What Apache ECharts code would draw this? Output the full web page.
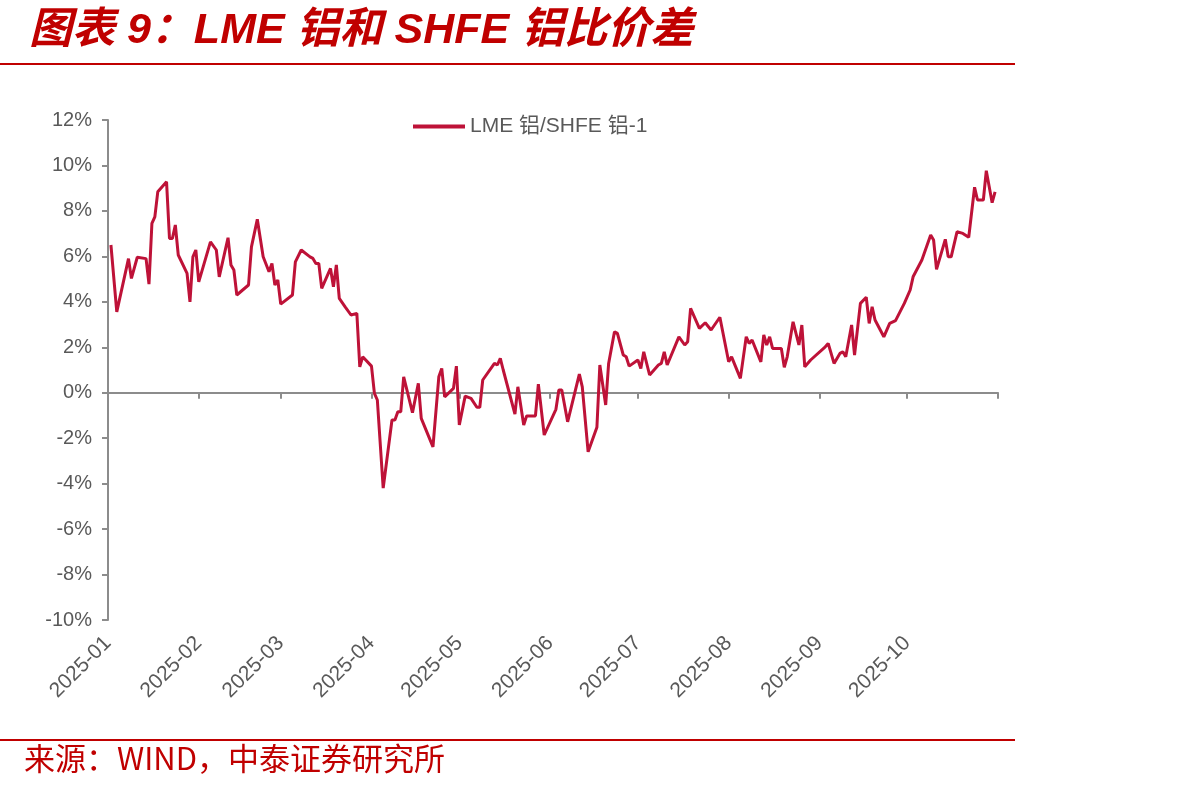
<!DOCTYPE html>
<html>
<head>
<meta charset="utf-8">
<script src="https://cdn.jsdelivr.net/npm/echarts@6/dist/echarts.min.js"></script>
<style>
  html, body { margin: 0; padding: 0; background: #fff; }
  #main { width: 1192px; height: 792px; }
</style>
</head>
<body>
<div id="main"></div>
<script>
// trading dates (2025) and LME/SHFE - 1 spread, %
const dates = [
  '01-02','01-04','01-08','01-09','01-11','01-14','01-15','01-16','01-17','01-18',
  '01-21','01-22','01-23','01-24','01-25','01-28','01-29','01-30','01-31','02-01',
  '02-05','02-07','02-08','02-11','02-12','02-13','02-14','02-18','02-19','02-21',
  '02-23','02-25','02-26','02-27','02-28','03-01','03-05','03-06','03-08','03-11',
  '03-12','03-13','03-14','03-15','03-18','03-19','03-20','03-21','03-23','03-25',
  '03-27','03-28','03-29','04-01','04-02','04-03','04-05','04-08','04-09','04-10',
  '04-11','04-12','04-15','04-17','04-18','04-22','04-24','04-25','04-26','04-29',
  '04-30','05-01','05-03','05-05','05-07','05-08','05-09','05-13','05-14','05-15',
  '05-16','05-20','05-21','05-23','05-24','05-27','05-28','05-30','06-03','06-04',
  '06-05','06-07','06-11','06-12','06-14','06-17','06-18','06-20','06-21','06-23',
  '06-24','06-26','06-27','06-28','07-01','07-02','07-03','07-05','07-08','07-09',
  '07-10','07-11','07-15','07-17','07-18','07-19','07-22','07-24','07-26','07-29',
  '08-01','08-02','08-05','08-07','08-08','08-09','08-12','08-13','08-14','08-15',
  '08-16','08-19','08-20','08-21','08-23','08-25','08-26','08-27','08-29','09-03',
  '09-04','09-06','09-08','09-09','09-10','09-12','09-13','09-15','09-17','09-18',
  '09-19','09-20','09-23','09-25','09-27','09-30','10-02','10-03','10-06','10-09',
  '10-10','10-11','10-14','10-15','10-16','10-18','10-20','10-22','10-24','10-25',
  '10-27','10-28','10-29','10-30','10-31'
];
const spread = [
  6.5, 3.56, 5.9, 5.03, 5.96, 5.9, 4.78, 7.45, 7.74, 8.84,
  9.28, 6.79, 6.79, 7.38, 6.06, 5.25, 4.0, 5.98, 6.28, 4.88,
  6.64, 6.28, 5.1, 6.82, 5.62, 5.4, 4.3, 4.74, 6.42, 7.63,
  5.98, 5.32, 5.69, 4.74, 4.96, 3.9, 4.3, 5.76, 6.28, 5.98,
  5.91, 5.69, 5.69, 4.59, 5.47, 4.66, 5.62, 4.15, 3.78, 3.42,
  3.49, 1.14, 1.58, 1.17, -0.03, -0.32, -4.2, -1.2, -1.2, -0.84,
  -0.84, 0.7, -0.88, 0.41, -1.13, -2.38, 0.7, 1.07, -0.18, 0.19,
  1.17, -1.42, -0.15, -0.25, -0.64, -0.64, 0.56, 1.29, 1.22, 1.51,
  1.0, -0.94, 0.26, -1.42, -1.02, -1.02, 0.38, -1.86, -0.73, 0.12,
  0.12, -1.28, 0.82, 0.26, -2.6, -1.52, 1.22, -0.54, 1.29, 2.68,
  2.61, 1.66, 1.58, 1.17, 1.44, 1.07, 1.8, 0.78, 1.22, 1.29,
  1.8, 1.22, 2.46, 2.1, 2.24, 3.71, 2.83, 3.08, 2.76, 3.32,
  1.36, 1.58, 0.63, 2.46, 2.17, 2.32, 1.36, 2.54, 2.1, 2.46,
  1.95, 1.95, 1.12, 1.58, 3.12, 2.1, 2.98, 1.14, 1.44, 2.02,
  2.17, 1.29, 1.73, 1.8, 1.58, 2.98, 1.66, 3.93, 4.2, 3.05,
  3.78, 3.2, 2.46, 3.05, 3.17, 3.93, 4.52, 5.1, 5.84, 6.94,
  6.72, 5.43, 6.75, 5.98, 5.98, 7.08, 7.01, 6.84, 9.04, 8.48,
  8.48, 9.77, 9.06, 8.36, 8.84
];
const yTicks = { min: -10, max: 12, step: 2 };
const seriesName = 'LME 铝/SHFE 铝-1';

// calendar days 2025-01-01 .. 2025-11-01 as axis categories
const days = [];
for (let t = Date.UTC(2025, 0, 1); t <= Date.UTC(2025, 10, 1); t += 86400000) {
    days.push(new Date(t).toISOString().slice(0, 10));
}
const isMonthStart = v => v.endsWith('-01');

const red = '#C00000';
const axisGray = '#8C8C8C';
const textGray = '#595959';
const latinCjk = '"Liberation Sans", Arial, "Noto Sans CJK SC", sans-serif';

var chartDom = document.getElementById('main');
var myChart = echarts.init(chartDom);

var option = {
    animation: false,
    textStyle: { fontFamily: latinCjk },
    title: {
        text: '图表 9：LME 铝和 SHFE 铝比价差',
        left: 24,
        top: 5,
        textStyle: {
            color: red,
            fontSize: 43,
            fontWeight: 'bold',
            fontStyle: 'italic',
            fontFamily: latinCjk
        }
    },
    legend: {
        data: [seriesName],
        left: 408,
        top: 111,
        icon: 'rect',
        itemWidth: 52,
        itemHeight: 4,
        itemGap: 6,
        textStyle: { color: textGray, fontSize: 21, fontFamily: latinCjk }
    },
    grid: { left: 108, right: 194, top: 120, bottom: 172, containLabel: false },
    xAxis: [
        {
            type: 'category',
            data: days,
            boundaryGap: false,
            axisLine: { onZero: true, lineStyle: { color: axisGray, width: 2 } },
            axisTick: {
                show: true,
                length: 6,
                lineStyle: { color: axisGray, width: 2 },
                interval: (i, v) => isMonthStart(v)
            },
            axisLabel: { show: false },
            splitLine: { show: false }
        },
        {
            type: 'category',
            data: days,
            boundaryGap: false,
            position: 'bottom',
            axisLine: { show: false, onZero: false },
            axisTick: { show: false },
            axisLabel: {
                rotate: 45,
                margin: 20,
                color: textGray,
                fontSize: 21,
                interval: (i, v) => isMonthStart(v) && v !== '2025-11-01',
                formatter: v => v.slice(0, 7)
            },
            splitLine: { show: false }
        }
    ],
    yAxis: {
        type: 'value',
        min: yTicks.min,
        max: yTicks.max,
        interval: yTicks.step,
        axisLine: { show: true, lineStyle: { color: axisGray, width: 2 } },
        axisTick: { show: true, length: 6, lineStyle: { color: axisGray, width: 2 } },
        axisLabel: { formatter: '{value}%', color: textGray, fontSize: 20, margin: 16 },
        splitLine: { show: false }
    },
    graphic: [
        {
            type: 'rect',
            shape: { x: 0, y: 63, width: 1015, height: 2 },
            style: { fill: red }
        },
        {
            type: 'rect',
            shape: { x: 0, y: 739, width: 1015, height: 2 },
            style: { fill: red }
        },
        {
            type: 'text',
            left: 24,
            top: 743,
            style: {
                text: '来源：WIND，中泰证券研究所',
                fill: red,
                fontSize: 31,
                fontFamily: '"Noto Sans CJK SC", sans-serif'
            }
        }
    ],
    series: [
        {
            name: seriesName,
            type: 'line',
            xAxisIndex: 0,
            showSymbol: false,
            symbol: 'none',
            lineStyle: { color: '#BE1238', width: 3 },
            itemStyle: { color: '#BE1238' },
            data: dates.map((d, i) => ['2025-' + d, spread[i]])
        }
    ]
};

option && myChart.setOption(option);
</script>
</body>
</html>
